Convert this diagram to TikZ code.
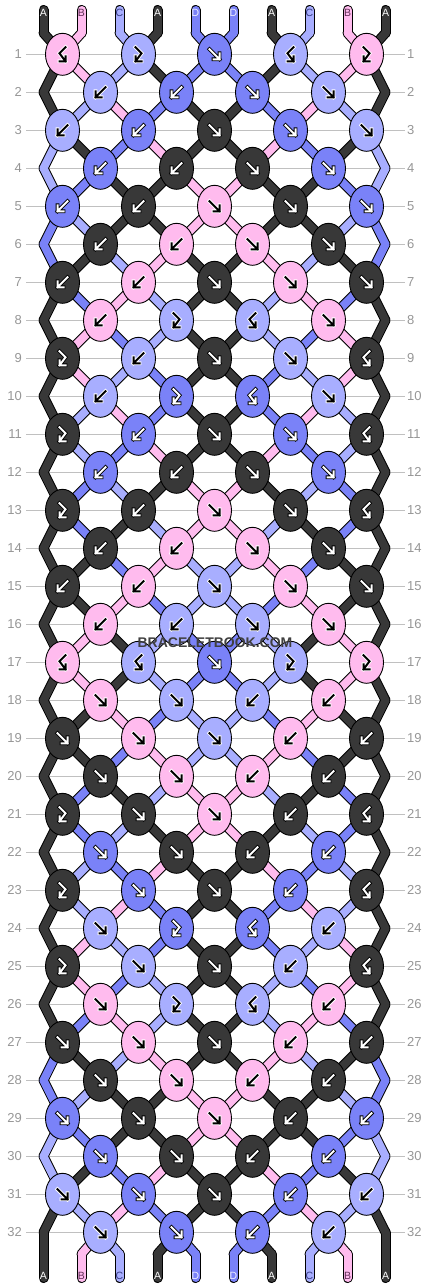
\documentclass[tikz,border=0pt]{standalone}
\usepackage{fontspec}
\setmainfont{Liberation Sans}
\usetikzlibrary{shapes.geometric}

\definecolor{colA}{RGB}{56,56,56}
\definecolor{colB}{RGB}{255,187,238}
\definecolor{colC}{RGB}{168,174,255}
\definecolor{colD}{RGB}{122,130,248}
\definecolor{labA}{RGB}{255,255,255}
\definecolor{labB}{RGB}{95,45,85}
\definecolor{labC}{RGB}{55,60,130}
\definecolor{labD}{RGB}{240,240,255}
\definecolor{gridgray}{RGB}{192,192,192}
\definecolor{numgray}{RGB}{150,150,150}
\definecolor{wmgray}{RGB}{64,64,64}

\pgfdeclarelayer{grid}
\pgfdeclarelayer{strands}
\pgfsetlayers{grid,strands,main}

% one knot: colour letter, type letter (f, b, p = fb, q = bf)
\newcommand{\knot}[2]{%
  \node[knot, fill=col#1] (k-\rw-\jc) at (\x,\y) {};
  \pic at (k-\rw-\jc) {g-#2=ink#1};
  \pgfmathtruncatemacro\jn{\jc+1}%
  \coordinate (s-\rw-\jc) at (k-\rw-\jc);
  \coordinate (s-\rw-\jn) at (k-\rw-\jc);
}

% all strings, row gap by row gap
\newcommand{\strands}[1]{%
  \foreach \cl [count=\p] in {A,B,C,A,D,D,A,C,B,A}{
    \draw[#1=\cl] (hd-\p) -- (s-0-\p);
    \draw[#1=\cl] (s-33-\p) -- (tl-\p);
  }
  \foreach \st [count=\rw from 0] in {{A,B,C,A,D,D,A,C,B,A},%
      {A,B,C,A,D,D,A,C,B,A},%
      {A,C,B,D,A,A,D,B,C,A},%
      {C,A,D,B,A,A,B,D,A,C},%
      {C,D,A,A,B,B,A,A,D,C},%
      {D,C,A,A,B,B,A,A,C,D},%
      {D,A,C,B,A,A,B,C,A,D},%
      {A,D,B,C,A,A,C,B,D,A},%
      {A,B,D,C,A,A,C,D,B,A},%
      {A,B,C,D,A,A,D,C,B,A},%
      {A,C,B,D,A,A,D,B,C,A},%
      {A,C,D,B,A,A,B,D,C,A},%
      {A,D,C,A,B,B,A,C,D,A},%
      {A,D,A,C,B,B,C,A,D,A},%
      {A,A,D,B,C,C,B,D,A,A},%
      {A,A,B,D,C,C,D,B,A,A},%
      {A,B,A,C,D,D,C,A,B,A},%
      {A,B,A,C,D,D,C,A,B,A},%
      {A,A,B,D,C,C,D,B,A,A},%
      {A,A,D,B,C,C,B,D,A,A},%
      {A,D,A,C,B,B,C,A,D,A},%
      {A,D,C,A,B,B,A,C,D,A},%
      {A,C,D,B,A,A,B,D,C,A},%
      {A,C,B,D,A,A,D,B,C,A},%
      {A,B,C,D,A,A,D,C,B,A},%
      {A,B,D,C,A,A,C,D,B,A},%
      {A,D,B,C,A,A,C,B,D,A},%
      {D,A,C,B,A,A,B,C,A,D},%
      {D,C,A,A,B,B,A,A,C,D},%
      {C,D,A,A,B,B,A,A,D,C},%
      {C,A,D,B,A,A,B,D,A,C},%
      {A,C,B,D,A,A,D,B,C,A},%
      {A,B,C,A,D,D,A,C,B,A}}{
    \pgfmathtruncatemacro\rn{\rw+1}
    \foreach \cl [count=\p] in \st
      \draw[#1=\cl] (s-\rw-\p) -- (s-\rn-\p);
  }
}

\begin{document}
\begin{tikzpicture}[x=1pt,y=1pt,yscale=-1,
  knot/.style={ellipse,draw=black,line width=0.9pt,minimum width=34pt,minimum height=42pt,inner sep=0pt},
  ol/.style={draw=black,line width=10pt,line cap=round},
  fl/.style={draw=col#1,line width=8pt,line cap=round},
  glyph/.style={line width=0.9pt,double distance=2pt,line cap=rect},
  inkA/.style={draw=black,double=white},
  inkB/.style={draw=white,double=black},
  inkC/.style={draw=white,double=black},
  inkD/.style={draw=black,double=white},
  pics/g-f/.style={code={\draw[glyph,#1] (-5,5) -- (5,-5) (-1,-5) -- (5,-5) -- (5,1);}},
  pics/g-b/.style={code={\draw[glyph,#1] (5,5) -- (-5,-5) (1,-5) -- (-5,-5) -- (-5,1);}},
  pics/g-p/.style={code={\draw[glyph,#1] (-3,7) -- (3,1) -- (-3,-7) (3,-7) -- (-3,-7) -- (-3,-2);}},
  pics/g-q/.style={code={\draw[glyph,#1] (3,7) -- (-3,1) -- (3,-7) (-3,-7) -- (3,-7) -- (3,-2);}},
  rownum/.style={text=numgray,font=\fontsize{13}{13}\selectfont,inner sep=0pt},
  lbl/.style={text=lab#1,font=\fontsize{10.5}{10.5}\selectfont,inner sep=0pt},
  wmark/.style={text=wmgray,font=\bfseries\fontsize{14}{14}\selectfont,inner sep=0pt}]
\useasboundingbox (0,0) rectangle (430,1288);

% row numbers and guide lines
\foreach \rw in {1,...,32}{
  \pgfmathsetmacro\y{54.3+38*(\rw-1)}
  \node[rownum,anchor=east] (nl-\rw) at (22,\y) {\rw};
  \node[rownum,anchor=west] (nr-\rw) at (407,\y) {\rw};
  \begin{pgfonlayer}{grid}
    \draw[gridgray,line width=1pt,shorten <=4pt,shorten >=2pt] (nl-\rw) -- (nr-\rw);
  \end{pgfonlayer}
}

% string ends and their letters
\foreach \cl [count=\p] in {A,B,C,A,D,D,A,C,B,A}{
  \pgfmathsetmacro\x{43.5+38*(\p-1)}
  \coordinate (hd-\p) at (\x,10);
  \coordinate (s-0-\p) at (\x,33);
  \coordinate (s-33-\p) at (\x,1254);
  \coordinate (tl-\p) at (\x,1278);
  \node[lbl=\cl] (top-\p) at (\x,12.5) {\cl};
  \node[lbl=\cl] (bot-\p) at (\x,1275.5) {\cl};
}

% knots, one list per row
\foreach \row [count=\rw] in {{Bq,Cp,Df,Cq,Bp},%
    {Cb,Db,Df,Cf},%
    {Cb,Db,Af,Df,Cf},%
    {Db,Ab,Af,Df},%
    {Db,Ab,Bf,Af,Df},%
    {Ab,Bb,Bf,Af},%
    {Ab,Bb,Af,Bf,Af},%
    {Bb,Cp,Cq,Bf},%
    {Ap,Cb,Af,Cf,Aq},%
    {Cb,Dp,Dq,Cf},%
    {Ap,Db,Af,Df,Aq},%
    {Db,Ab,Af,Df},%
    {Ap,Ab,Bf,Af,Aq},%
    {Ab,Bb,Bf,Af},%
    {Ab,Bb,Cf,Bf,Af},%
    {Bb,Cb,Cf,Bf},%
    {Bq,Cq,Df,Cp,Bp},%
    {Bf,Cf,Cb,Bb},%
    {Af,Bf,Cf,Bb,Ab},%
    {Af,Bf,Bb,Ab},%
    {Ap,Af,Bf,Ab,Aq},%
    {Df,Af,Ab,Db},%
    {Ap,Df,Af,Db,Aq},%
    {Cf,Dp,Dq,Cb},%
    {Ap,Cf,Af,Cb,Aq},%
    {Bf,Cp,Cq,Bb},%
    {Af,Bf,Af,Bb,Ab},%
    {Af,Bf,Bb,Ab},%
    {Df,Af,Bf,Ab,Db},%
    {Df,Af,Ab,Db},%
    {Cf,Df,Af,Db,Cb},%
    {Cf,Df,Db,Cb}}{
  \pgfmathsetmacro\y{54.3+38*(\rw-1)}
  \ifodd\rw\relax \def\sh{0}\else \def\sh{1}%
    \coordinate (s-\rw-1) at (43.5,\y);
    \coordinate (s-\rw-10) at (385.5,\y);
  \fi
  \foreach \kn [count=\kk] in \row {
    \pgfmathtruncatemacro\jc{2*\kk-1+\sh}
    \pgfmathsetmacro\x{62.5+38*(\jc-1)}
    \expandafter\knot\kn
  }
}

\begin{pgfonlayer}{strands}
  \strands{ol}
  \strands{fl}
\end{pgfonlayer}

\node[wmark] (wm) at (215,643) {BRACELETBOOK.COM};

\end{tikzpicture}
\end{document}
